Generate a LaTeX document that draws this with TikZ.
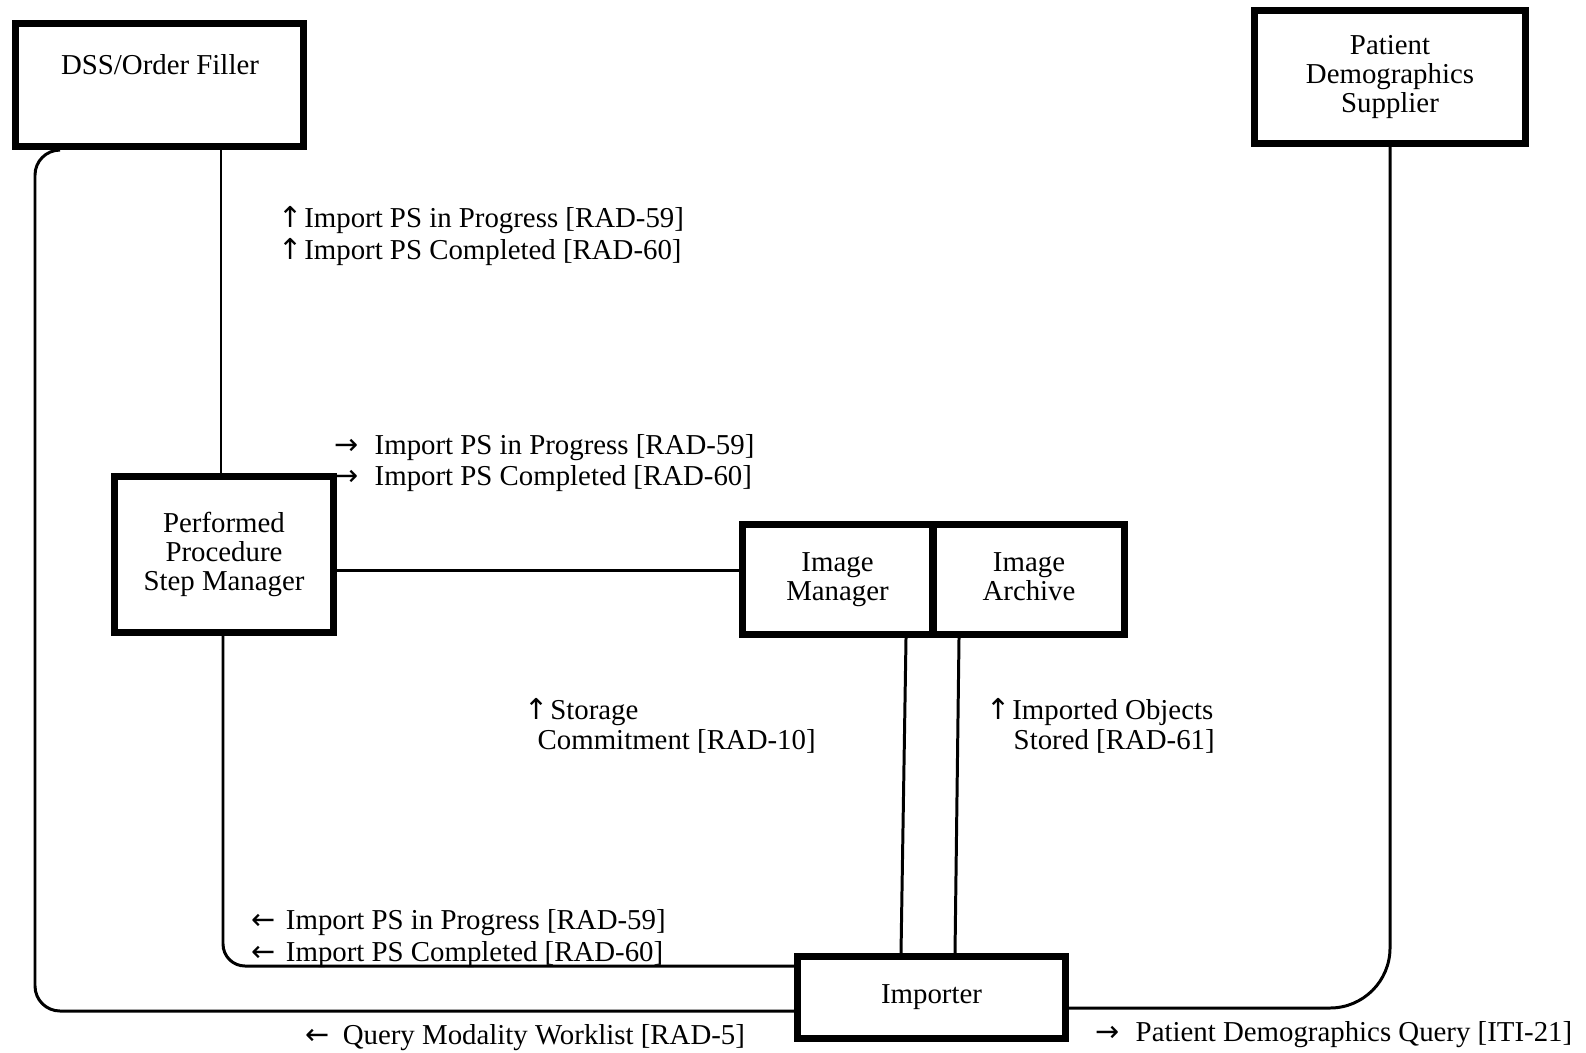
\documentclass[tikz,border=0pt]{standalone}
\usepackage{fontspec}
\setmainfont{Liberation Serif}
\newfontfamily\dgarrowfont{DejaVu Sans}
\usetikzlibrary{calc}
\newcommand\dgboxfont{\fontsize{8.2}{8.3}\selectfont}
\newcommand\dglblfont{\fontsize{8.2}{8.8}\selectfont}
\newcommand\dgarr[1]{{\dgarrowfont #1}}
\begin{document}
\begin{tikzpicture}[x=0.01cm,y=-0.01cm,
  box/.style={draw, line width=2pt, inner sep=0pt, align=center, font=\dgboxfont},
  conn/.style={line width=0.85pt},
  lbl/.style={inner sep=0pt, anchor=base west, font=\dglblfont},
]
\useasboundingbox (0,0) rectangle (1586,1052);

% actors
\node[box, minimum width=2.88cm, minimum height=1.23cm] (dss) at (159.5,85) {};
\node[inner sep=0pt, font=\dgboxfont] (dsst) at (160,65) {DSS/Order Filler};
\node[box, minimum width=2.71cm, minimum height=1.33cm] (pds) at (1390,77) {Patient\\Demographics\\Supplier};
\node[box, minimum width=2.19cm, minimum height=1.56cm] (ppsm) at (224,554.5) {Performed\\Procedure\\Step Manager};
\node[box, minimum width=1.90cm, minimum height=1.10cm] (im) at (837.5,579.5) {Image\\Manager};
\node[box, minimum width=1.91cm, minimum height=1.10cm] (ia) at (1029,579.5) {Image\\Archive\vphantom{g}};
\node[box, minimum width=2.68cm, minimum height=0.82cm] (importer) at (931.5,997.5) {Importer};

% helper positions for connector routes
\coordinate (xa) at (221,0);
\coordinate (ya) at (0,570);
\coordinate (xb) at (223,0);
\coordinate (yb) at (0,966);
\coordinate (xc) at (60,0);
\coordinate (xd) at (35,0);
\coordinate (yc) at (0,1011);
\coordinate (yd) at (0,1008);

% connectors
\draw[conn] (dss.south -| xa) -- (ppsm.north -| xa);
\draw[conn] (ppsm.east |- ya) -- (im.west |- ya);
\draw[conn, rounded corners=0.22cm] (ppsm.south -| xb) |- (importer.west |- yb);
\draw[conn, rounded corners=0.25cm] (dss.south -| xc) -| (xd |- yc) -- (importer.west |- yc);
\draw[conn, rounded corners=0.6cm] (importer.east |- yd) -| (pds.south);
\draw[conn] ($(im.south)+(68.5,0)$) -- ($(importer.north)+(-30.5,0)$);
\draw[conn] ($(ia.south)+(-70,0)$) -- ($(importer.north)+(23.5,0)$);

% transaction labels
\node[lbl] (l1a) at (278,228) {\dgarr{↑}\hspace{0.05em}Import PS in Progress [RAD-59]};
\node[lbl] (l1b) at (278,260) {\dgarr{↑}\hspace{0.05em}Import PS Completed [RAD-60]};
\node[lbl] (l2a) at (334,454) {\dgarr{→}\hspace{0.55em}Import PS in Progress [RAD-59]};
\node[lbl] (l2b) at (334,485) {\dgarr{→}\hspace{0.55em}Import PS Completed [RAD-60]};
\node[lbl] (l3a) at (524,719) {\dgarr{↑}\hspace{0.05em}Storage};
\node[lbl] (l3b) at (537,749) {Commitment [RAD-10]};
\node[lbl] (l4a) at (986,719) {\dgarr{↑}\hspace{0.05em}Imported Objects};
\node[lbl] (l4b) at (1013,749) {Stored [RAD-61]};
\node[lbl] (l5a) at (251,929) {\dgarr{←}\hspace{0.35em}Import PS in Progress [RAD-59]};
\node[lbl] (l5b) at (251,961) {\dgarr{←}\hspace{0.35em}Import PS Completed [RAD-60]};
\node[lbl] (l6) at (305,1044) {\dgarr{←}\hspace{0.45em}Query Modality Worklist [RAD-5]};
\node[lbl] (l7) at (1095,1041) {\dgarr{→}\hspace{0.55em}Patient Demographics Query [ITI-21]};
\end{tikzpicture}
\end{document}
